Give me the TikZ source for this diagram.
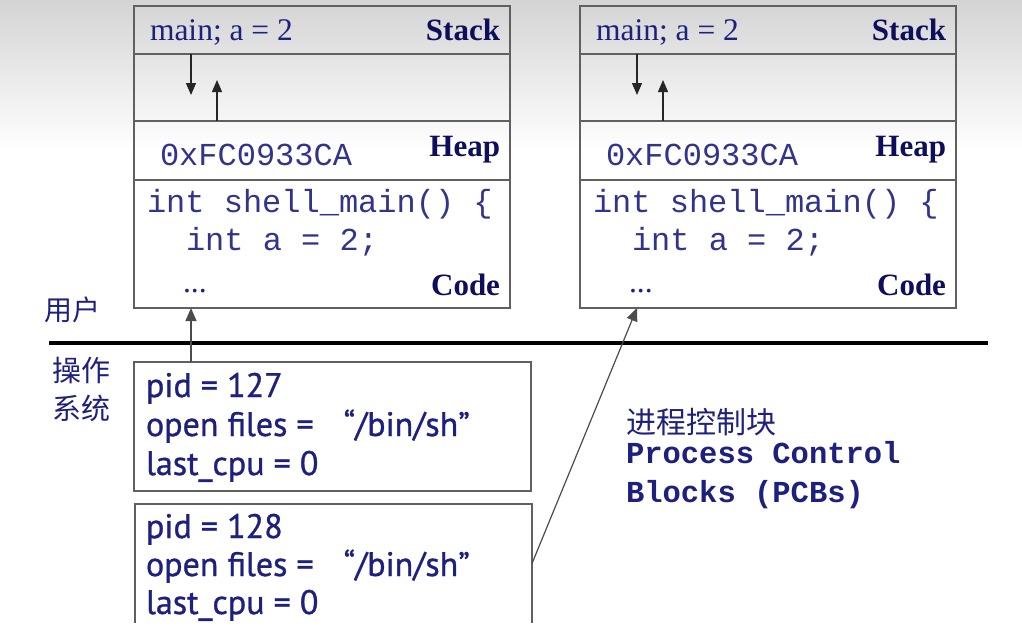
\documentclass[tikz,border=0pt]{standalone}
\usepackage{fontspec}
\setmainfont{Liberation Serif}
\setmonofont{Liberation Mono}
\setsansfont{PT Sans}
\newfontfamily\pcbfont{PT Sans}[FakeBold=0.9]
\newfontfamily\cjk{Noto Sans CJK SC}
\usetikzlibrary{arrows.meta}
\definecolor{ink}{RGB}{30,32,125}
\definecolor{codeink}{RGB}{50,52,140}
\definecolor{heading}{RGB}{14,14,92}
\definecolor{frame}{RGB}{96,96,96}
\definecolor{skytop}{RGB}{212,212,212}

\begin{document}
\begin{tikzpicture}[x=1pt,y=-1pt,
  sect/.style={draw=frame, line width=1.4pt, minimum width=376pt, inner sep=0pt, outer sep=0pt, anchor=north west},
  pcbbox/.style={line width=1.4pt, minimum width=397pt, inner sep=0pt, outer sep=0pt, anchor=north west},
  lbl/.style={inner sep=0pt, outer sep=0pt, anchor=base west},
  serif/.style={lbl, text=ink, font=\fontsize{31.5}{36}\selectfont},
  tag/.style={lbl, anchor=base east, text=heading, font=\bfseries\fontsize{31}{36}\selectfont},
  code/.style={lbl, text=codeink, font=\ttfamily\fontsize{32}{36}\selectfont},
  pcbtext/.style={lbl, text=ink, font=\pcbfont\fontsize{34}{38}\selectfont},
  arr/.style={draw=black!85, line width=1.3pt, -{Triangle[length=12pt,width=10pt]}},
  link/.style={draw=black!70, line width=1.2pt, -{Triangle[length=13pt,width=11pt]}},
]
% page and soft grey band along the top
\useasboundingbox (0,0) rectangle (1022,634);
\fill[white] (0,0) rectangle (1022,634);
\shade[top color=skytop, bottom color=white] (0,0) rectangle (1022,150);

% two address spaces
\foreach \p/\x in {L/134, R/580}{
  \node[sect, minimum height=48pt] (\p stack) at (\x,6) {};
  \node[sect, minimum height=67pt, anchor=north] (\p gap) at (\p stack.south) {};
  \node[sect, minimum height=59pt, anchor=north] (\p heap) at (\p gap.south) {};
  \node[sect, minimum height=128pt, anchor=north] (\p code) at (\p heap.south) {};

  \node[serif] (\p main) at (\x+16,41) {main; a = 2};
  \node[tag] (\p stacktag) at (\x+366,41) {Stack};
  \node[code] (\p addr) at (\x+26,165) {0xFC0933CA};
  \node[tag] (\p heaptag) at (\x+366,156) {Heap};
  \node[code] (\p line1) at (\x+13,212) {int shell\_main() \{};
  \node[code] (\p line2) at (\x+52,250) {int a = 2;};
  \node[serif] (\p dots) at (\x+49,292) {...};
  \node[tag] (\p codetag) at (\x+366,295) {Code};

  \draw[arr] ([xshift=57pt]\p stack.south west) -- ++(0,41);
  \draw[arr] ([xshift=83pt]\p heap.north west) -- ++(0,-41);
}

% user / kernel boundary
\coordinate (sepL) at (49,343);
\coordinate (sepR) at (988,343);
\draw[line width=4pt] (sepL) -- (sepR);
\node[text=ink, font=\cjk\fontsize{28}{32}\selectfont, inner sep=0pt] (user) at (72,310) {用户};
\node[text=ink, font=\cjk\fontsize{29}{38}\selectfont, align=center, inner sep=0pt] (kernel) at (81,389) {操作\\系统};

% process control blocks
\node[pcbbox, draw=frame, minimum height=129pt] (pcb1) at (134,362) {};
\node[pcbtext] (p1a) at (146,397) {pid = 127};
\node[pcbtext] (p1b) at (146,436) {open files =\hspace{30pt}“/bin/sh”};
\node[pcbtext] (p1c) at (146,475) {last\_cpu = 0};

\node[pcbbox, minimum height=119pt] (pcb2) at (135,504) {};
\draw[draw=frame, line width=1.4pt] (pcb2.south west) -- (pcb2.north west) -- (pcb2.north east) -- (pcb2.south east);
\node[pcbtext] (p2a) at (146,538) {pid = 128};
\node[pcbtext] (p2b) at (146,576) {open files =\hspace{30pt}“/bin/sh”};
\node[pcbtext] (p2c) at (146,614) {last\_cpu = 0};

% each block points at the code of its process
\coordinate (up1) at ([xshift=57pt]pcb1.north west);
\draw[link] (up1) -- (up1 |- Lcode.south);
\draw[link] (pcb2.east) -- ([xshift=57pt]Rcode.south west);

% caption
\node[inner sep=0pt, anchor=west, text=ink, font=\cjk\fontsize{30}{34}\selectfont] (capcn) at (626,422) {进程控制块};
\node[lbl, text=ink, font=\ttfamily\bfseries\fontsize{30.5}{34}\selectfont] (capen1) at (626,463) {Process Control};
\node[lbl, text=ink, font=\ttfamily\bfseries\fontsize{30.5}{34}\selectfont] (capen2) at (626,502) {Blocks (PCBs)};
\end{tikzpicture}
\end{document}
